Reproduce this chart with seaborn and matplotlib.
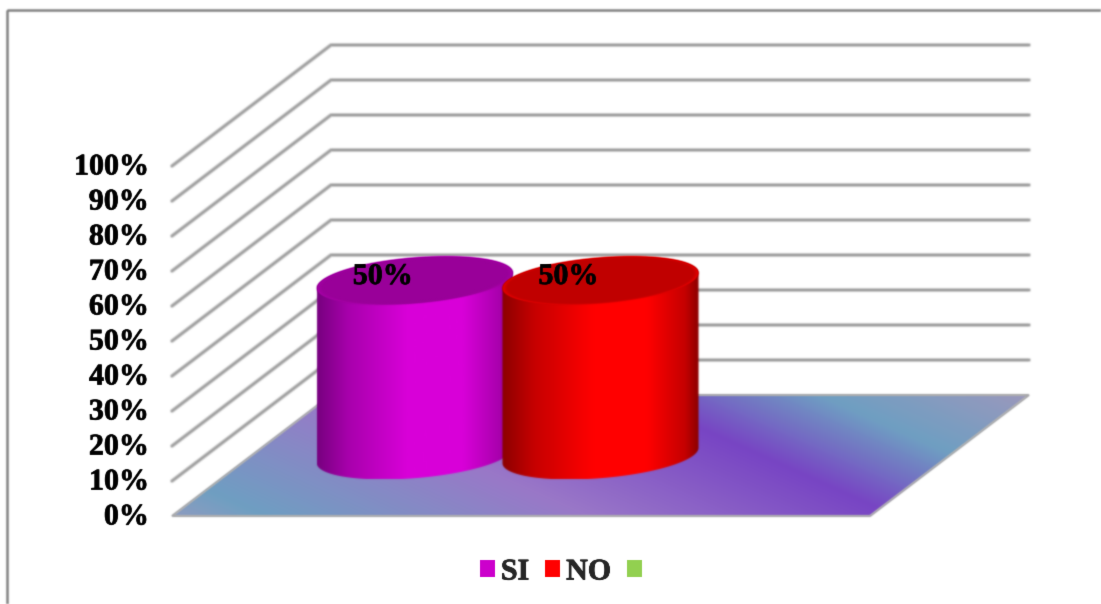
import numpy as np
import pandas as pd
import matplotlib
matplotlib.use("Agg")
import matplotlib.pyplot as plt
import matplotlib.patheffects as pe
from matplotlib.colors import LinearSegmentedColormap
from matplotlib.patches import Patch, Polygon, Rectangle
from matplotlib.text import Text
import seaborn as sns

ticks = [0, 10, 20, 30, 40, 50, 60, 70, 80, 90, 100]
series = ["SI", "NO", ""]
values = [50, 50, None]
colors = ["#cc00cc", "#ff0000", "#92d050"]
labels = ["50%", "50%", None]

# box of the fake 3d scene, in pixels of the 1101x604 picture
X0, Y0 = 172, 516
W, DX, DY = 698, 159, 121
H = 350
SPACING = 0.266
RW = 0.198


def project(u, w, v):
    return X0 + W * u + DX * w, Y0 - DY * w - H * v / 100


def make_soften(kernel):
    # the original is a scaled up screenshot, everything in it is a bit blurred
    kernel = np.array(kernel)

    def soften(img, dpi):
        pad = 3
        src = np.pad(img, ((pad, pad), (pad, pad), (0, 0)))
        src[..., :3] *= src[..., 3:]
        for axis in (0, 1):
            src = np.apply_along_axis(lambda m: np.convolve(m, kernel, mode="same"), axis, src)
        alpha = np.clip(src[..., 3:], 1e-4, 1)
        src[..., :3] = np.clip(src[..., :3] / alpha, 0, 1)
        return src, -pad, -pad
    return soften


sns.set_theme(style="white")
plt.rcParams["font.family"] = ["Liberation Serif", "DejaVu Serif"]
FS = 21.6
HEAVY = [pe.withStroke(linewidth=0.5, foreground="black")]

fig = plt.figure(figsize=(11.01, 6.04), dpi=100)
ax = fig.add_axes([0, 0, 1, 1])

# grid lines on side wall and back wall
rows = []
for t in ticks[1:]:
    for u, w in [(0, 0), (0, 1), (1, 1)]:
        x, y = project(u, w, t)
        rows.append({"x": x, "y": y, "tick": t})
grid = pd.DataFrame(rows)
sns.lineplot(data=grid, x="x", y="y", units="tick", estimator=None, sort=False,
             color="#d4d4d4", lw=3.0, ax=ax, legend=False, zorder=1)
sns.lineplot(data=grid, x="x", y="y", units="tick", estimator=None, sort=False,
             color="#9c9c9c", lw=1.5, ax=ax, legend=False, zorder=1.1)

# floor with its diagonal gradient
floor_xy = [project(u, w, 0) for u, w in [(0, 0), (1, 0), (1, 1), (0, 1)]]
floor = Polygon(floor_xy, closed=True, fc="none", ec="#a9a9a9", lw=1.4, zorder=2.1)
ax.add_patch(floor)
stops = [-439, -397, -252, -112, -25, 68]
stop_cols = ["#8f9cc0", "#6f9fc2", "#9a78c8", "#7845c4", "#6f9fc2", "#9b98bd"]
pos = [(s - stops[0]) / (stops[-1] - stops[0]) for s in stops]
floor_cmap = LinearSegmentedColormap.from_list("floor", list(zip(pos, stop_cols)))
xx, yy = np.meshgrid(np.arange(X0, X0 + W + DX), np.arange(Y0 - DY, Y0))
im = ax.imshow(0.45 * xx - yy, extent=(X0, X0 + W + DX, Y0, Y0 - DY), cmap=floor_cmap,
               vmin=stops[0], vmax=stops[-1], aspect="auto", zorder=2)
im.set_clip_path(floor)


def ellipse(uc, v, th, scale=1.0):
    a = SPACING / 2
    u = uc + scale * a * np.cos(th)
    w = 0.5 + scale * RW * np.sin(th)
    return project(u, w, v)


def cylinder(i, value, edge, mid, top, rim, z):
    uc = 0.5 + (i - 1) * SPACING
    a_px, b_px = W * SPACING / 2, DX * RW
    tilt = np.arctan2(b_px, a_px)
    front = np.linspace(np.pi + tilt, 2 * np.pi + tilt, 80)
    back = np.linspace(tilt, np.pi + tilt, 80)
    low = np.column_stack(ellipse(uc, 0, front))
    high = np.column_stack(ellipse(uc, value, back))
    body = Polygon(np.vstack([low, high]), closed=True, fc="none", ec="none", zorder=z)
    ax.add_patch(body)
    x_min, x_max = body.get_xy()[:, 0].min(), body.get_xy()[:, 0].max()
    half = sns.blend_palette([edge, mid], n_colors=3)[1]
    shade = LinearSegmentedColormap.from_list(
        f"side{i}", [(0, edge), (0.16, half), (0.46, mid), (0.74, mid), (0.93, half), (1, edge)])
    grad = np.linspace(0, 1, 256).reshape(1, -1)
    y_top, y_bot = body.get_xy()[:, 1].min(), body.get_xy()[:, 1].max()
    side = ax.imshow(grad, extent=(x_min, x_max, y_bot, y_top), cmap=shade,
                     aspect="auto", zorder=z)
    side.set_clip_path(body)
    th = np.linspace(0, 2 * np.pi, 160)
    layers = sns.blend_palette([rim, top], n_colors=5)
    for k, c in enumerate(layers):
        xy = np.column_stack(ellipse(uc, value, th, 1 - k * 0.012))
        ax.add_patch(Polygon(xy, closed=True, fc=c, ec="none", zorder=z + 0.1 + k * 0.01))
    return uc


cyl_cols = [("#780080", "#d900d9", "#990099", "#a800a8"),
            ("#8c0000", "#ff0000", "#c00000", "#e40000")]
for i, val in enumerate(values):
    if val is None:
        continue
    uc = cylinder(i, val, *cyl_cols[i], z=3 + i)
    x, y = project(uc, 0.5, val)
    ax.text(x - 32, y - 4, labels[i], ha="center", va="center", fontsize=FS,
            fontweight="bold", color="black", zorder=6, path_effects=HEAVY)

# y tick labels
for t in ticks:
    x, y = project(0, 0, t)
    ax.text(x - 23, y + 1, f"{t}%", ha="right", va="center", fontsize=FS,
            fontweight="bold", color="black", zorder=6, path_effects=HEAVY)

handles = [Patch(fc=c, ec="none", label=s) for c, s in zip(colors, series)]
leg = ax.legend(handles=handles, loc="center", bbox_to_anchor=(564, 572),
                bbox_transform=ax.transData, ncol=3, frameon=False,
                prop={"weight": "bold", "size": FS}, handlelength=0.5, handleheight=0.5,
                handletextpad=0.2, columnspacing=0.53, borderpad=0, borderaxespad=0)
for txt in leg.get_texts():
    txt.set_path_effects(HEAVY)

# outer chart frame, runs off the picture on the right and at the bottom
ax.add_patch(Rectangle((6.5, 10), 1200, 700, fc="none", ec="#808080", lw=1.8, zorder=7))

ax.set_xlim(0, 1101)
ax.set_ylim(604, 0)
ax.axis("off")
shapes_blur = make_soften([0.03, 0.2, 0.54, 0.2, 0.03])
text_blur = make_soften([0.0, 0.1, 0.8, 0.1, 0.0])
for art in ax.get_children():
    if art in (ax.patch, ax.xaxis, ax.yaxis) or art in ax.spines.values():
        continue
    if isinstance(art, Text) or art is leg:
        art.set_agg_filter(text_blur)
    else:
        art.set_agg_filter(shapes_blur)
fig.savefig("out.png", dpi=100, facecolor="white")
